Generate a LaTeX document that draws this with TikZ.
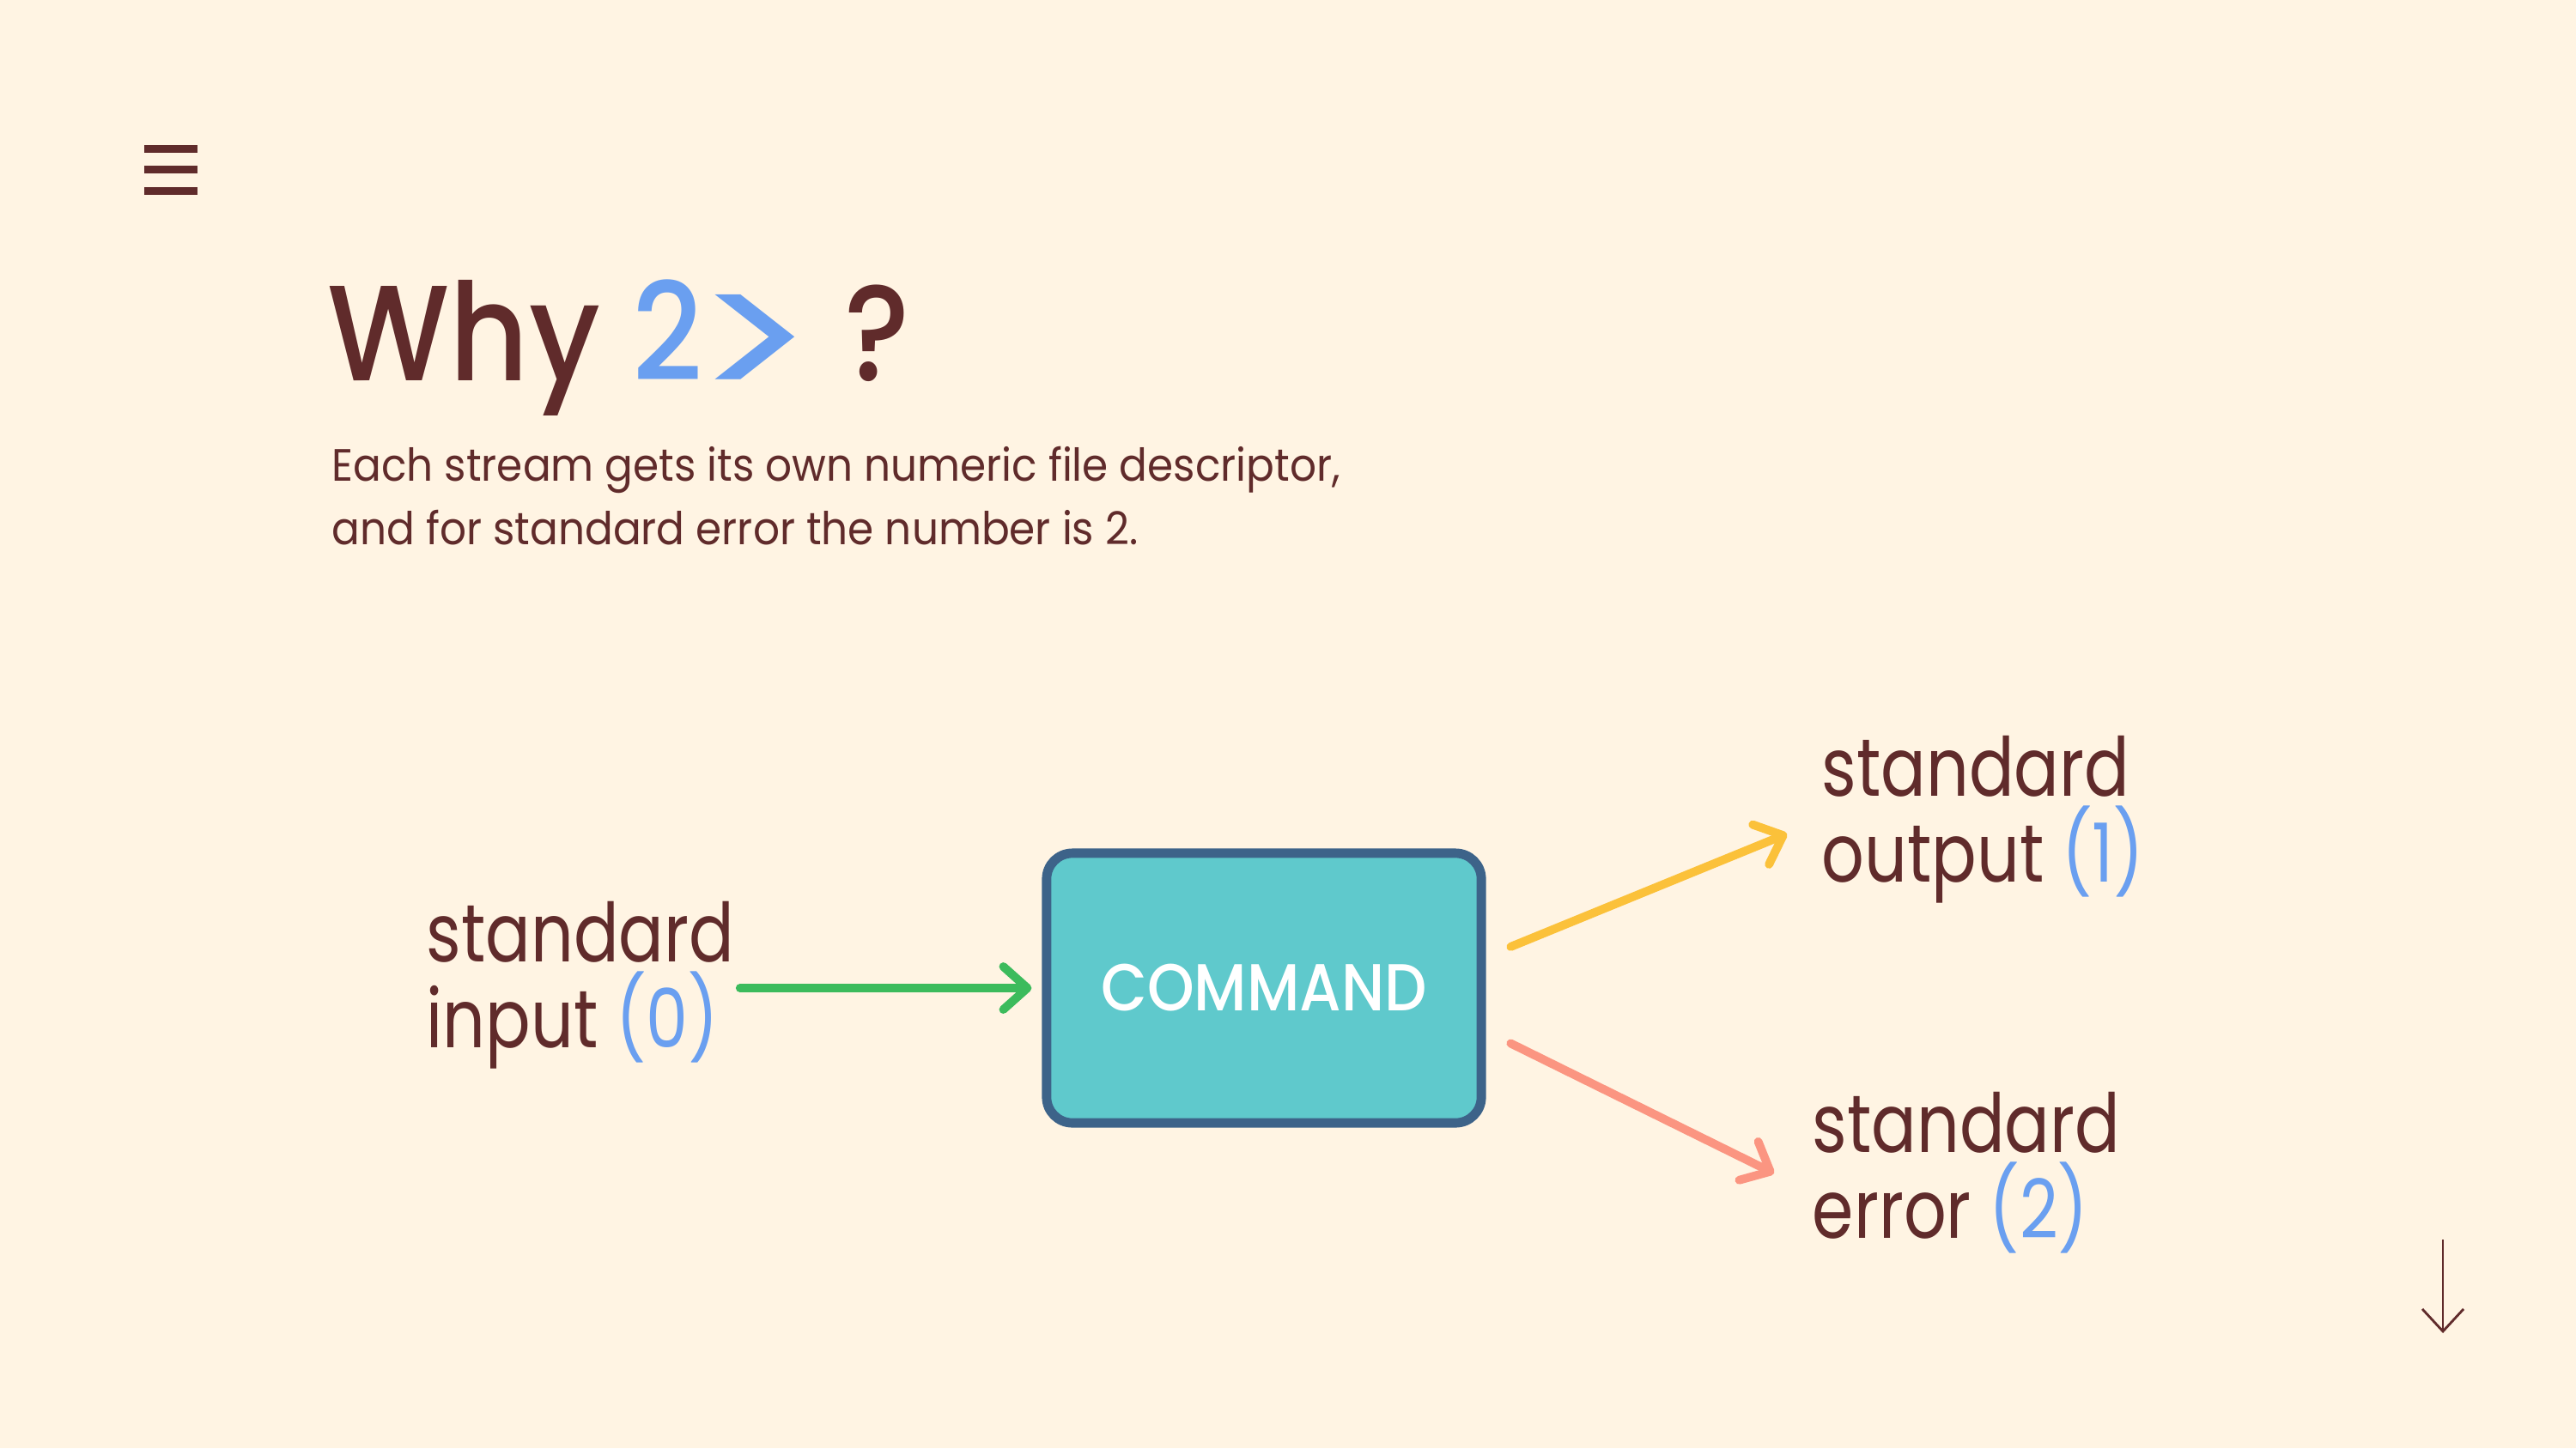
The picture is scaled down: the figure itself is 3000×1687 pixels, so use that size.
\documentclass[tikz,border=0pt]{standalone}
\usepackage{fontspec}
\setmainfont{Poppins}
\newfontfamily\headfont[FakeStretch=0.9]{Poppins Medium}
\newfontfamily\bodyfont[FakeStretch=0.92]{Poppins}
\newfontfamily\streamfont[FakeStretch=0.82]{Poppins}
\usetikzlibrary{arrows.meta,positioning}
\definecolor{cream}{HTML}{FFF4E3}
\definecolor{ink}{HTML}{602B2B}
\definecolor{numblue}{HTML}{6A9FF0}
\definecolor{ingreen}{HTML}{3CBB5C}
\definecolor{outyellow}{HTML}{FBC13A}
\definecolor{errsalmon}{HTML}{FB9581}
\definecolor{cmdfill}{HTML}{5FC9CC}
\definecolor{cmdedge}{HTML}{3D6389}
\tikzstyle{stream} = [anchor=north west, inner sep=0pt, align=left, text=ink, font=\streamfont\fontsize{27}{28.35}\selectfont]
\tikzstyle{cmdbox} = [draw=cmdedge, fill=cmdfill, line width=3.1pt, rounded corners=0.3cm, minimum width=5.06cm, minimum height=3.14cm, text=white, font=\headfont\fontsize{22}{24}\selectfont]
\tikzstyle{flow} = [line width=2.8pt, line cap=round, -{Straight Barb[round, length=0.28cm, width=0.5cm]}]

\begin{document}
\begin{tikzpicture}[x=0.01cm,y=-0.01cm]

\fill[cream] (0,0) rectangle (3000,1687);
\useasboundingbox (0,0) rectangle (3000,1687);

\foreach \y in {173,197,222}
  \fill[ink] (168,\y-4.5) rectangle (230,\y+4.5);

\node[anchor=base west, inner sep=0pt, text=ink, font=\headfont\fontsize{45}{50}\selectfont] (title) at (381,443) {Why \textcolor{numblue}{2\hspace{-0.1cm}\raisebox{-0.28cm}{\resizebox{1.4cm}{1.28cm}{\bodyfont >}}}\hspace{0.35cm}?};
\node[anchor=north west, inner sep=0pt, align=left, text=ink, font=\bodyfont\fontsize{15}{21.3}\selectfont] (sub) at (386,519) {Each stream gets its own numeric file descriptor,\\and for standard error the number is 2.};

\node[cmdbox] (cmd) at (1472,1151) {COMMAND};
\node[stream] (in0) at (496,1050) {standard\\input \textcolor{numblue}{(0)}};
\node[stream] (out1) at (2121,857) {standard\\output \textcolor{numblue}{(1)}};
\node[stream] (err2) at (2110,1272) {standard\\error \textcolor{numblue}{(2)}};

\coordinate (dtop) at (2845,1444);
\coordinate (dbot) at (2845,1553);

  \path
    (in0.east |- cmd.west) edge [flow, draw=ingreen, shorten <=0.06cm, shorten >=0.12cm] node {} (cmd.west)
    (cmd.8) edge [flow, draw=outyellow, shorten <=0.31cm, shorten >=0.43cm] node {} (out1.west)
    (cmd.-11) edge [flow, draw=errsalmon, shorten <=0.32cm, shorten >=0.49cm] node {} (err2.187)
    (dtop) edge [draw=ink, line width=0.8pt, -{Straight Barb[length=0.26cm, width=0.48cm]}] node {} (dbot);

\end{tikzpicture}
\end{document}
